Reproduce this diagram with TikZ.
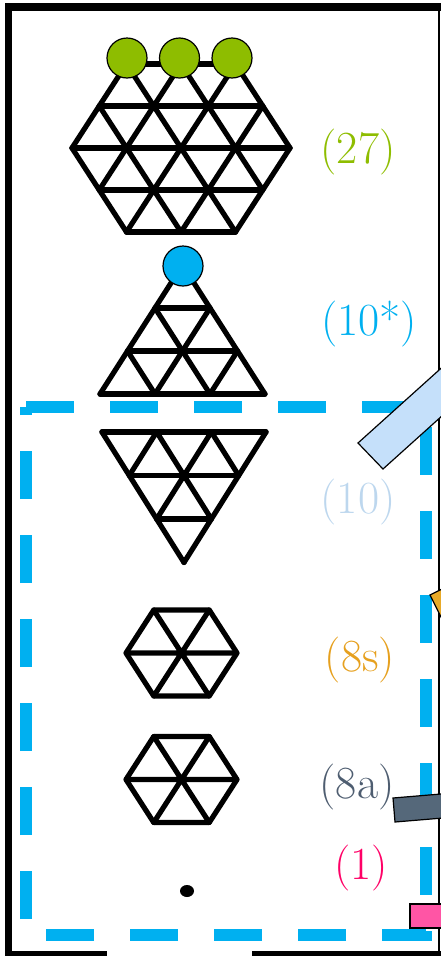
\documentclass[tikz,border=0pt]{standalone}
\usepackage{fontspec}
\definecolor{wgreen}{RGB}{142,189,0}
\definecolor{wcyan}{RGB}{0,176,240}
\definecolor{wlblue}{RGB}{189,215,238}
\definecolor{worange}{RGB}{230,160,30}
\definecolor{wslate}{RGB}{78,93,112}
\definecolor{wred}{RGB}{255,0,102}
\definecolor{tbblue}{RGB}{197,224,250}
\definecolor{tborange}{RGB}{232,170,40}
\definecolor{tbslate}{RGB}{85,104,122}
\definecolor{tbpink}{RGB}{255,85,165}

\begin{document}
\begin{tikzpicture}[x=1pt, y=-1pt,
  tiles/.style={line width=5.2pt, line cap=round, line join=round},
  wt/.style={circle, draw=black, line width=1.2pt, minimum size=40pt, inner sep=0pt},
  tab/.style={draw=black, line width=1.2pt},
  dashbox/.style={draw=wcyan, line width=12pt, dash pattern=on 48pt off 36pt},
  lbl/.style={font=\fontsize{46}{50}\selectfont, inner sep=0pt}
]
  \useasboundingbox (0,0) rectangle (441,956);
  \clip (0,0) rectangle (441,956);

  \draw[line width=7.5pt] (107,954.5) -- (8.5,954.5) -- (8.5,7) -- (445,7);
  \draw[line width=7.5pt] (252,954.5) -- (445,954.5);
  \draw[line width=2pt] (438.5,7) -- (438.5,956);

  \path[dashbox] (26,407) -- (426,407) -- (426,935) -- (26,935) -- cycle;

  % (27)
  \begin{scope}[shift={(181,148)}, x={(54.5pt,0pt)}, y={(0pt,-42pt)}]
    \foreach \a/\b/\c/\d in {-1/-2/1/-2, -1.5/-1/1.5/-1, -2/0/2/0, -1.5/1/1.5/1, -1/2/1/2,
        -2/0/-1/2, -1.5/-1/0/2, -1/-2/1/2, 0/-2/1.5/1, 1/-2/2/0,
        2/0/1/2, 1.5/-1/0/2, 1/-2/-1/2, 0/-2/-1.5/1, -1/-2/-2/0}
      \draw[tiles] (\a,\b) -- (\c,\d);
  \end{scope}
  \node[wt, fill=wgreen] (g1) at (127,58) {};
  \node[wt, fill=wgreen] (g2) at (179.5,58) {};
  \node[wt, fill=wgreen] (g3) at (232,58) {};

  % (10*)
  \begin{scope}[shift={(182.5,265)}, x={(55pt,0pt)}, y={(0pt,-43pt)}]
    \foreach \a/\b/\c/\d in {-0.5/1/0.5/1, -1/2/1/2, -1.5/3/1.5/3,
        0/0/1.5/3, -0.5/1/0.5/3, -1/2/-0.5/3,
        0/0/-1.5/3, 0.5/1/-0.5/3, 1/2/0.5/3}
      \draw[tiles] (\a,\b) -- (\c,\d);
  \end{scope}
  \node[wt, fill=wcyan] (c1) at (183,266) {};

  % (10)
  \begin{scope}[shift={(184,432)}, x={(54.7pt,0pt)}, y={(0pt,-43.5pt)}]
    \foreach \a/\b/\c/\d in {-1.5/0/1.5/0, -1/1/1/1, -0.5/2/0.5/2,
        -1.5/0/0/3, -0.5/0/0.5/2, 0.5/0/1/1,
        1.5/0/0/3, 0.5/0/-0.5/2, -0.5/0/-1/1}
      \draw[tiles] (\a,\b) -- (\c,\d);
  \end{scope}

  % (8s), (8a)
  \foreach \cy in {653,779.5} {
    \begin{scope}[shift={(181.5,\cy)}, x={(55.5pt,0pt)}, y={(0pt,-43pt)}]
      \draw[tiles] (-1,0) -- (-0.5,-1) -- (0.5,-1) -- (1,0) -- (0.5,1) -- (-0.5,1) -- cycle;
      \draw[tiles] (-1,0) -- (1,0) (-0.5,-1) -- (0.5,1) (0.5,-1) -- (-0.5,1);
    \end{scope}
  }

  % (1)
  \fill (187,891) ellipse (7 and 6);

  \draw[tab, fill=tbblue] (358,443) -- (383,469) -- (533,334) -- (508,308) -- cycle;
  \draw[tab, fill=tborange] (430,595) -- (454,583) -- (470,615) -- (446,627) -- cycle;
  \draw[tab, fill=tbslate] (393,798) -- (465,792) -- (467,816) -- (395,822) -- cycle;
  \draw[tab, fill=tbpink] (410,904) rectangle (470,928);

  \node[lbl, text=wgreen] (n27) at (358,152) {(27)};
  \node[lbl, text=wcyan] (n10s) at (369,324) {(10*)};
  \node[lbl, text=wlblue] (n10) at (358,502) {(10)};
  \node[lbl, text=worange] (n8s) at (360,660) {(8s)};
  \node[lbl, text=wslate] (n8a) at (357,787) {(8a)};
  \node[lbl, text=wred] (n1) at (361,868) {(1)};
\end{tikzpicture}
\end{document}
